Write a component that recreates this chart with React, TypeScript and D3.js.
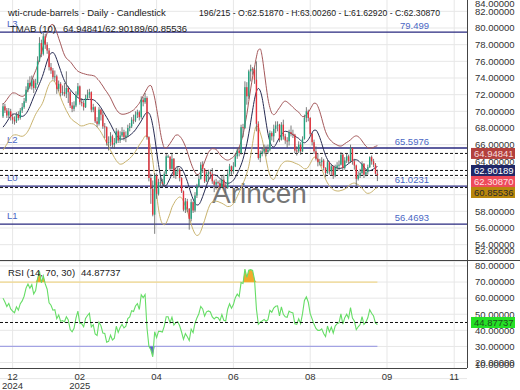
import React from 'react';
import * as d3 from 'd3';

// bars before the first visible candle, only used to warm up the indicators
const warmCloses = [67.8, 68.1, 66.4, 68.6, 68.8, 68.3, 69.5, 70.6, 68.3, 68.2, 68.1, 67.4, 67.5, 69.3, 67.9, 67.7, 66.6, 67.8, 68.0, 69.7, 69.4];
const warmHighs = [68.4, 68.6, 68.3, 68.9, 69.3, 69.0, 69.9, 70.9, 70.8, 68.9, 68.7, 68.4, 68.2, 69.6, 69.5, 68.3, 67.9, 68.2, 68.4, 70.0, 69.9];
const warmLows = [67.2, 67.5, 66.1, 66.3, 68.1, 68.0, 68.2, 69.3, 68.0, 67.8, 67.6, 67.2, 66.9, 67.4, 67.6, 67.2, 66.4, 66.5, 67.5, 67.9, 69.1];

// visible daily candles (open = previous close)
const closes = [
  70.6, 70.1, 69.5, 70.0, 69.3, 69.0, 68.8, 69.6, 69.2, 70.1,
  70.5, 71.2, 72.6, 73.4, 73.0, 73.7, 72.8, 73.4, 76.0, 78.2,
  76.9, 79.0, 78.0, 77.3, 75.3, 74.9, 74.1, 74.2, 72.7, 73.3,
  72.2, 72.3, 72.1, 72.8, 72.3, 70.7, 70.3, 70.7, 72.0, 73.0,
  71.1, 71.0, 70.5, 71.6, 72.0, 72.3, 70.2, 70.5, 68.8, 68.5,
  70.2, 69.6, 68.2, 68.1, 66.2, 66.3, 67.0, 66.0, 66.2, 67.6,
  66.5, 67.1, 67.5, 66.9, 67.1, 68.0, 68.2, 69.0, 68.9, 69.6,
  69.9, 69.3, 71.4, 71.1, 71.6, 66.9, 62.0, 60.7, 57.6, 62.3,
  60.1, 61.5, 61.5, 61.3, 62.5, 64.6, 64.6, 63.1, 64.3, 62.3,
  62.8, 63.0, 62.0, 60.4, 58.2, 59.2, 58.3, 57.1, 59.1, 58.1,
  59.9, 61.0, 61.9, 63.6, 63.1, 61.6, 62.5, 62.7, 62.5, 61.6,
  61.2, 61.5, 61.4, 60.9, 61.8, 60.9, 60.8, 62.5, 63.4, 62.8,
  63.4, 64.6, 65.3, 65.0, 68.1, 68.0, 72.9, 71.8, 74.8, 75.1,
  75.0, 73.8, 68.5, 64.4, 64.9, 65.2, 65.5, 65.1, 65.4, 67.4,
  67.0, 67.9, 68.3, 68.4, 66.6, 68.4, 67.0, 66.5, 66.4, 67.5,
  67.3, 67.2, 65.3, 65.2, 66.0, 65.2, 66.7, 69.2, 70.0, 69.2,
  67.3, 66.3, 65.2, 64.3, 63.9, 63.9, 64.1, 63.2, 62.6, 63.9,
  62.8, 63.4, 62.3, 63.2, 63.5, 63.6, 64.8, 63.2, 64.1, 64.6,
  64.0, 65.6, 64.0, 63.5, 61.9, 62.3, 62.6, 63.7, 62.4, 62.7,
  63.3, 64.5, 64.0, 63.6, 62.52, 62.31,
];
const highs = [
  71.0, 70.9, 70.4, 70.4, 70.3, 69.7, 69.4, 69.9, 70.0, 70.4,
  71.0, 71.6, 73.0, 73.8, 74.2, 74.3, 73.9, 73.9, 76.6, 78.9,
  78.6, 79.4, 79.3, 78.3, 77.6, 75.8, 75.2, 74.9, 74.4, 73.7,
  73.5, 73.1, 73.4, 74.8, 73.0, 72.5, 71.1, 71.2, 72.4, 73.4,
  73.1, 71.6, 71.3, 72.0, 72.6, 72.7, 72.4, 70.9, 70.6, 69.3,
  70.5, 70.3, 70.0, 68.6, 68.2, 67.0, 67.5, 67.2, 66.8, 68.0,
  67.8, 67.6, 68.1, 67.8, 67.6, 68.4, 68.6, 69.3, 69.6, 70.0,
  70.2, 70.1, 71.8, 71.7, 72.2, 71.8, 67.0, 62.5, 61.7, 62.6,
  62.5, 61.9, 62.1, 61.9, 62.8, 64.9, 64.8, 64.5, 64.9, 64.4,
  63.2, 63.4, 63.2, 62.1, 60.5, 59.6, 59.5, 58.4, 59.5, 59.2,
  60.3, 61.3, 62.4, 63.9, 64.0, 63.2, 62.8, 63.0, 63.0, 63.2,
  61.8, 61.9, 61.7, 61.8, 62.3, 62.4, 61.4, 63.0, 63.7, 63.5,
  63.9, 64.9, 65.6, 65.7, 68.4, 68.5, 73.6, 73.5, 75.0, 75.6,
  75.3, 75.2, 76.0, 68.8, 65.3, 65.7, 66.0, 65.9, 66.0, 67.7,
  67.6, 68.4, 68.8, 68.8, 68.5, 68.7, 69.0, 67.3, 66.9, 67.8,
  68.3, 67.8, 67.3, 65.8, 66.4, 66.3, 67.0, 69.6, 70.5, 70.2,
  69.3, 67.4, 66.6, 65.8, 65.0, 64.3, 64.5, 64.3, 63.3, 64.2,
  64.0, 63.7, 63.5, 63.6, 63.9, 64.1, 65.1, 64.9, 64.5, 64.9,
  64.8, 66.0, 65.7, 64.3, 63.6, 62.8, 63.1, 64.0, 63.8, 63.1,
  63.6, 64.6, 64.7, 64.3, 63.8, 63.0026,
];
const lows = [
  69.2, 69.8, 69.2, 69.2, 68.9, 68.5, 68.4, 68.6, 68.9, 69.0,
  69.8, 70.3, 71.0, 72.3, 72.7, 72.6, 72.2, 72.6, 73.2, 75.9,
  76.5, 76.7, 77.5, 76.9, 74.9, 74.5, 73.8, 73.6, 72.1, 72.4,
  71.8, 71.9, 71.8, 71.6, 71.0, 70.4, 69.9, 70.0, 70.5, 71.8,
  70.8, 70.6, 70.1, 70.4, 71.4, 71.6, 69.9, 69.9, 68.6, 68.1,
  68.3, 68.9, 67.9, 66.8, 65.9, 65.3, 65.8, 65.6, 65.5, 66.1,
  66.2, 66.2, 66.9, 66.5, 66.3, 66.9, 67.6, 68.0, 68.5, 68.7,
  69.2, 68.9, 69.1, 70.6, 70.9, 66.6, 61.6, 58.9, 57.4, 55.3,
  59.5, 59.9, 61.0, 60.9, 61.0, 62.3, 64.4, 62.9, 63.0, 62.0,
  61.9, 62.4, 61.6, 60.2, 58.0, 57.8, 57.9, 55.8, 56.8, 57.8,
  57.9, 59.6, 60.8, 61.8, 62.6, 61.4, 61.5, 61.6, 61.9, 61.3,
  60.3, 60.6, 61.2, 60.6, 60.8, 60.7, 60.2, 60.7, 62.2, 62.3,
  62.5, 63.3, 64.3, 64.6, 64.8, 66.9, 67.9, 70.8, 71.5, 73.6,
  74.4, 73.3, 67.6, 64.2, 63.9, 64.6, 64.9, 64.6, 64.9, 65.2,
  66.5, 66.3, 67.4, 67.6, 66.3, 66.5, 66.6, 66.1, 65.6, 65.9,
  67.0, 66.8, 65.0, 64.7, 65.0, 64.8, 65.1, 66.6, 68.7, 68.8,
  67.1, 65.9, 64.9, 64.1, 63.4, 63.5, 63.4, 62.9, 62.1, 62.5,
  62.4, 62.3, 61.9, 62.1, 62.9, 62.9, 63.5, 62.9, 63.0, 63.8,
  63.7, 63.8, 63.6, 63.0, 61.0, 61.7, 62.0, 62.4, 62.0, 62.2,
  62.4, 63.2, 63.6, 63.3, 62.4, 61.6292,
];

// x axis labels, placed at bar indices
const xTickIndex = [5, 40, 80, 120, 160, 200, 235];
const xTickMonth = ['12', '02', '04', '06', '08', '09', '11'];
const xTickYear = ['2024', '2025', '', '', '', '', ''];

// horizontal levels
const levelNames = ['L3', 'L2', 'L0', 'L1'];
const levelValues = [79.499, 65.5976, 61.0231, 56.4693];
const levelText = ['79.499', '65.5976', '61.0231', '56.4693'];

// last values shown on the price axis
const lastValues = [64.94841, 62.90189, 62.3087, 60.85536];
const lastText = ['64.94841', '62.90189', '62.30870', '60.85536'];
const lastFill = ['#b3403d', '#1f2768', '#ee4b5b', '#b8860b'];
const lastInk = ['#f6dcdc', '#ffffff', '#ffe2e2', '#2b2b2b'];
const rsiLast = 44.87737;

const priceTicks = d3.range(52, 85, 2);
const rsiTicks = d3.range(10, 81, 10);

const W = 520;
const H = 390;
const plotR = 467;
const mainB = 260;
const rsiT = 260;
const rsiB = 368;
const BAND_K = 1.8;
const FONT = '"Liberation Sans", Arial, sans-serif';

const sma = (a: number[], p: number) =>
  a.map((_, i) => d3.mean(a.slice(Math.max(0, i - p + 1), i + 1)) as number);

// Wilder smoothing
const rma = (a: number[], p: number) => {
  const out: number[] = [];
  a.forEach((v, i) => {
    if (i < p) out.push(d3.mean(a.slice(0, i + 1)) as number);
    else out.push((out[i - 1] * (p - 1) + v) / p);
  });
  return out;
};

export default function App() {
  const nw = warmCloses.length;
  const allC = [...warmCloses, ...closes];
  const allH = [...warmHighs, ...highs];
  const allL = [...warmLows, ...lows];

  const mid = sma(sma(allC, 5), 6);
  const tr = allC.map((c, i) =>
    i === 0
      ? allH[i] - allL[i]
      : Math.max(allH[i] - allL[i], Math.abs(allH[i] - allC[i - 1]), Math.abs(allL[i] - allC[i - 1]))
  );
  const atr = sma(rma(tr, 10), 3);

  const rsi: number[] = allC.map(() => NaN);
  let ag = 0;
  let al = 0;
  for (let i = 1; i <= 14; i++) {
    const d = allC[i] - allC[i - 1];
    if (d > 0) ag += d;
    else al -= d;
  }
  ag /= 14;
  al /= 14;
  rsi[14] = 100 - 100 / (1 + ag / al);
  for (let i = 15; i < allC.length; i++) {
    const d = allC[i] - allC[i - 1];
    ag = (ag * 13 + Math.max(d, 0)) / 14;
    al = (al * 13 + Math.max(-d, 0)) / 14;
    rsi[i] = 100 - 100 / (1 + ag / al);
  }

  const bars = closes.map((c, i) => ({
    i,
    o: allC[nw + i - 1],
    c,
    h: highs[i],
    l: lows[i],
    mid: mid[nw + i],
    up: mid[nw + i] + BAND_K * atr[nw + i],
    lo: mid[nw + i] - BAND_K * atr[nw + i],
    rsi: rsi[nw + i],
  }));

  const x = d3.scaleLinear().domain([0, closes.length - 1]).range([3, 377.4]);
  const y = d3.scaleLinear().domain([52.16, 83.36]).range([mainB, 0]);
  const yr = d3.scaleLinear().domain([16.6, 83.7]).range([rsiB, rsiT]);

  type B = (typeof bars)[number];
  const lineOf = (f: (b: B) => number) =>
    d3.line<B>().curve(d3.curveMonotoneX).x((b) => x(b.i)).y((b) => y(f(b)))(bars) as string;
  const rsiLine = d3.line<B>().x((b) => x(b.i)).y((b) => yr(b.rsi))(bars) as string;
  const obArea = d3
    .area<B>()
    .x((b) => x(b.i))
    .y0(yr(70))
    .y1((b) => yr(Math.max(b.rsi, 70)))(bars) as string;
  const osArea = d3
    .area<B>()
    .x((b) => x(b.i))
    .y0(yr(30))
    .y1((b) => yr(Math.min(b.rsi, 30)))(bars) as string;

  // stacked price-axis boxes
  const boxH = 11;
  const boxY: number[] = [];
  lastValues.forEach((v, k) => {
    let yy = y(v);
    if (k > 0 && yy < boxY[k - 1] + boxH) yy = boxY[k - 1] + boxH;
    boxY.push(yy);
  });

  const clampP = (v: number) => Math.min(Math.max(y(v), 4), 251);
  const clampR = (v: number) => Math.min(Math.max(yr(v), 265), 365);
  const lastX = x(closes.length - 1);

  return (
    <svg
      width={W}
      height={H}
      style={{ position: 'absolute', left: 0, top: 0, background: '#fff', fontFamily: FONT }}
    >
      <defs>
        <clipPath id="mainClip">
          <rect x={0} y={0} width={plotR} height={mainB} />
        </clipPath>
        <clipPath id="rsiClip">
          <rect x={0} y={rsiT} width={plotR} height={rsiB - rsiT} />
        </clipPath>
      </defs>

      {/* grid */}
      <g stroke="#e7e7e7" strokeWidth={1}>
        {priceTicks.map((t) => (
          <line key={'pg' + t} x1={0} x2={plotR} y1={y(t)} y2={y(t)} />
        ))}
        {rsiTicks.map((t) => (
          <line key={'rg' + t} x1={0} x2={plotR} y1={yr(t)} y2={yr(t)} />
        ))}
        {xTickIndex.map((t) => (
          <line key={'xg' + t} x1={x(t)} x2={x(t)} y1={0} y2={rsiB} />
        ))}
      </g>

      {/* watermark */}
      <text x={212} y={203} fontSize={28} fill="#555" opacity={0.8}>
        Arincen
      </text>

      <g clipPath="url(#mainClip)">
        {/* levels */}
        {levelValues.map((v, k) => (
          <g key={levelNames[k]}>
            <line x1={0} x2={plotR} y1={y(v)} y2={y(v)} stroke="#29297f" strokeWidth={1.3} />
            <text x={7} y={y(v) - 5} fontSize={9.5} fill="#4a67c4">
              {levelNames[k]}
            </text>
            <text x={429} y={y(v) - 3} fontSize={9.5} fill="#4a67c4" textAnchor="end">
              {levelText[k]}
            </text>
          </g>
        ))}

        {/* last value dashed lines */}
        {lastValues.map((v) => (
          <line key={'d' + v} x1={0} x2={plotR} y1={y(v)} y2={y(v)} stroke="#111" strokeDasharray="3 2" />
        ))}

        {/* bands */}
        <path d={lineOf((b) => b.up)} fill="none" stroke="#a4585a" strokeWidth={1} />
        <path d={lineOf((b) => b.lo)} fill="none" stroke="#c9b36e" strokeWidth={1} />
        <path d={lineOf((b) => b.mid)} fill="none" stroke="#262b52" strokeWidth={1} />

        {/* candles */}
        {bars.map((b) => {
          const col = b.c >= b.o ? '#22a57f' : '#e5323c';
          const top = y(Math.max(b.o, b.c));
          const hgt = Math.max(1, Math.abs(y(b.o) - y(b.c)));
          return (
            <g key={'c' + b.i}>
              <line x1={x(b.i)} x2={x(b.i)} y1={y(b.h)} y2={y(b.l)} stroke="#5a5a5a" strokeWidth={0.8} />
              <rect x={x(b.i) - 0.7} y={top} width={1.4} height={hgt} fill={col} />
            </g>
          );
        })}
      </g>

      {/* RSI panel */}
      <g clipPath="url(#rsiClip)">
        <line x1={0} x2={lastX} y1={yr(70)} y2={yr(70)} stroke="#f0d78c" strokeWidth={1.2} />
        <line x1={0} x2={lastX} y1={yr(30)} y2={yr(30)} stroke="#a3a3e3" strokeWidth={1.2} />
        <path d={obArea} fill="#f2aa2c" />
        <path d={osArea} fill="#5b62c9" />
        <path d={rsiLine} fill="none" stroke="#66dd66" strokeWidth={1.1} />
        <line x1={0} x2={plotR} y1={yr(rsiLast)} y2={yr(rsiLast)} stroke="#111" strokeDasharray="3 2" />
      </g>

      {/* frame */}
      <line x1={0} x2={W} y1={rsiT + 0.5} y2={rsiT + 0.5} stroke="#444" />
      <line x1={0} x2={plotR} y1={rsiB + 0.5} y2={rsiB + 0.5} stroke="#444" />
      <line x1={plotR + 0.5} x2={plotR + 0.5} y1={0} y2={rsiB} stroke="#444" />

      {/* price axis */}
      <g fontSize={9.5} fill="#333">
        {priceTicks.map((t) => (
          <text key={'pl' + t} x={475} y={clampP(t)} dy="0.35em">
            {t.toFixed(5)}
          </text>
        ))}
        {rsiTicks.map((t) => (
          <text key={'rl' + t} x={475} y={clampR(t)} dy="0.35em">
            {t.toFixed(5)}
          </text>
        ))}
      </g>
      {lastValues.map((v, k) => (
        <g key={'box' + k}>
          <rect x={471} y={boxY[k] - boxH / 2} width={44} height={boxH} fill={lastFill[k]} />
          <text x={474} y={boxY[k]} dy="0.35em" fontSize={9.5} fill={lastInk[k]}>
            {lastText[k]}
          </text>
        </g>
      ))}
      <rect x={471} y={yr(rsiLast) - boxH / 2} width={44} height={boxH} fill="#25e025" />
      <text x={474} y={yr(rsiLast)} dy="0.35em" fontSize={9.5} fill="#1d4f1d">
        44.87737
      </text>

      {/* time axis */}
      <g fontSize={9.5} fill="#333" textAnchor="middle">
        {xTickIndex.map((t, k) => (
          <g key={'xl' + t}>
            <text x={x(t)} y={380}>
              {xTickMonth[k]}
            </text>
            {xTickYear[k] && (
              <text x={x(t)} y={389}>
                {xTickYear[k]}
              </text>
            )}
          </g>
        ))}
      </g>

      {/* headers */}
      <g fontSize={9.5} fill="#222">
        <text x={8} y={16}>wti-crude-barrels - Daily - Candlestick</text>
        <text x={199} y={16} textLength={241} lengthAdjust="spacingAndGlyphs">
          196/215 - O:62.51870 - H:63.00260 - L:61.62920 - C:62.30870
        </text>
        <text x={10} y={32}>TMAB (10)</text>
        <text x={63} y={32}>64.94841/62.90189/60.85536</text>
        <text x={8} y={276}>RSI (14, 70, 30)</text>
        <text x={81} y={276}>44.87737</text>
      </g>
    </svg>
  );
}
